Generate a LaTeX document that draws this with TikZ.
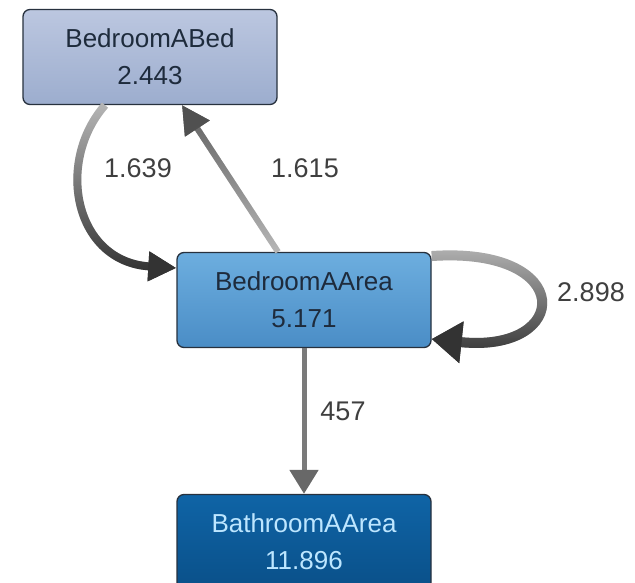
\documentclass[tikz,border=0pt]{standalone}
\usepackage{fontspec}
\setmainfont{Liberation Sans}
\usetikzlibrary{arrows.meta,fadings}
\definecolor{bedtop}{HTML}{BCC7E0}
\definecolor{bedbot}{HTML}{9CADCE}
\definecolor{areatop}{HTML}{6DAEDF}
\definecolor{areabot}{HTML}{4A8DC6}
\definecolor{bathtop}{HTML}{0F64A6}
\definecolor{bathbot}{HTML}{0A5089}
\definecolor{rimline}{HTML}{27313E}
\definecolor{roomtext}{HTML}{1E2B3C}
\definecolor{bathtext}{HTML}{BDE6FF}
\definecolor{lbltext}{HTML}{3F3F3F}
\definecolor{flowlight}{HTML}{B8B8B8}
\definecolor{flowdark}{HTML}{333333}
\definecolor{flowgrey}{HTML}{5E5E5E}
\definecolor{flowmid}{HTML}{7A7A7A}

\begin{document}
\begin{tikzpicture}[x=1pt, y=1pt,
  room/.style = {draw=rimline, line width=1.3pt, rounded corners=7pt, minimum width=254pt, minimum height=95pt, align=center, inner sep=0pt, font=\fontsize{26}{37}\selectfont},
  lbl/.style = {text=lbltext, font=\fontsize{27}{30}\selectfont},
  flow/.style 2 args = {draw=flowlight, postaction={draw=#2, path fading=#1}}]
  \path[use as bounding box, clip] (0,0) rectangle (635,582);
  \node[room, top color=bedtop, bottom color=bedbot, text=roomtext] (bed) at (150,525) {BedroomABed\\2.443};
  \node[room, top color=areatop, bottom color=areabot, text=roomtext] (area) at (304,282) {BedroomAArea\\5.171};
  \node[room, top color=bathtop, bottom color=bathbot, text=bathtext] (bath) at (304,40) {BathroomAArea\\11.896};
  \draw[flow={north}{flowdark}, line width=8pt, -{Triangle[length=28pt, width=28pt, color=flowdark]}] ([xshift=-45pt]bed.south) .. controls +(-50,-57) and +(-102,6) .. ([yshift=32pt]area.west);
  \draw[flow={south}{flowgrey}, line width=6pt, -{Triangle[length=28pt, width=28pt, color=flowgrey!85!black]}] ([xshift=-26pt]area.north) -- ([xshift=32pt]bed.south);
  \draw[flow={north}{flowdark}, line width=10pt, -{Triangle[length=30pt, width=40pt, color=flowdark]}] (area.19) .. controls +(145,10) and +(140,-15) .. (area.-17);
  \draw[draw=flowmid, line width=5pt, -{Triangle[length=24pt, width=28pt, color=flowmid!85!black]}] (area.south) -- (bath.north);
  \node[lbl] (l1639) at (138,414) {1.639};
  \node[lbl] (l1615) at (305,414) {1.615};
  \node[lbl] (l2898) at (591,290) {2.898};
  \node[lbl] (l457) at (343,171) {457};
\end{tikzpicture}
\end{document}
